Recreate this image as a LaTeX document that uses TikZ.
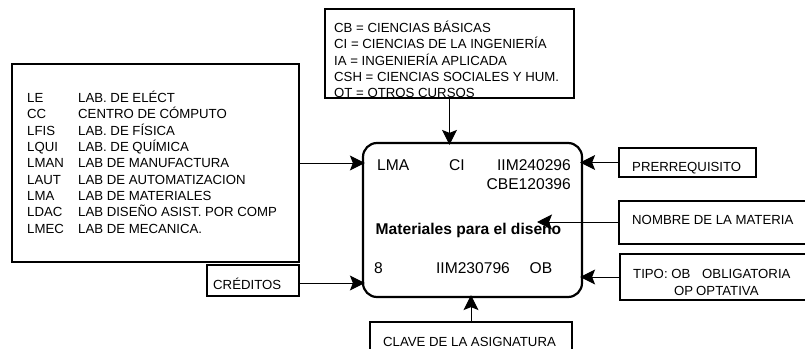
\documentclass[tikz,border=0pt]{standalone}
\usepackage{fontspec}
\setmainfont{Liberation Sans}
\usetikzlibrary{arrows.meta}

\tikzset{
    legendbox/.style={draw, line width=1.2pt, inner sep=0pt},
    card/.style={draw, line width=2.2pt, rounded corners=14pt, inner sep=0pt},
    tag/.style={font=\fontsize{13.2}{16.25}\selectfont, inner sep=0pt, align=left},
    field/.style={font=\fontsize{15.6}{18}\selectfont, inner sep=0pt, text height=12pt, text depth=1pt},
    pointer/.style={-{Stealth[length=15pt, width=15pt, inset=3pt]}, line width=1pt, shorten >=-3pt},
}

\begin{document}
\begin{tikzpicture}[x=1pt, y=-1pt]
    \useasboundingbox (0,0) rectangle (805,348);
    \clip (0,0) rectangle (805,348);

    \node[card, minimum width=219pt, minimum height=154pt] (course) at (472.5,220) {};
    \node[field, anchor=west] (lab) at (377,165) {LMA};
    \node[field] (area) at (457,165) {CI};
    \node[field, anchor=east] (prereqa) at (571,165) {IIM240296};
    \node[field, anchor=east] (prereqb) at (571,183.5) {CBE120396};
    \node[field, font=\fontsize{15.6}{18}\selectfont\bfseries] (title) at (468.5,228.5) {Materiales para el diseño};
    \node[field, anchor=west] (credits) at (374,267.5) {8};
    \node[field] (code) at (473,267.5) {IIM230796};
    \node[field] (kind) at (541,267.5) {OB};
    \coordinate (titlepoint) at (537,222);

    \node[legendbox, minimum width=287pt, minimum height=198pt] (labs) at (155.5,163) {};
    \node[tag, anchor=west] (lablist) at (27,164.5) {%
        \begin{tabular}{@{}p{51pt}@{}l@{}}
            LE & LAB. DE ELÉCT\\
            CC & CENTRO DE CÓMPUTO\\
            LFIS & LAB. DE FÍSICA\\
            LQUI & LAB. DE QUÍMICA\\
            LMAN & LAB DE MANUFACTURA\\
            LAUT & LAB DE AUTOMATIZACION\\
            LMA & LAB DE MATERIALES\\
            LDAC & LAB DISEÑO ASIST. POR COMP\\
            LMEC & LAB DE MECANICA.
        \end{tabular}};

    \node[legendbox, minimum width=249pt, minimum height=89pt] (areas) at (449.5,53.5) {};
    \node[tag, anchor=west] (arealist) at (334,59.5) {CB = CIENCIAS BÁSICAS\\CI = CIENCIAS DE LA INGENIERÍA\\IA = INGENIERÍA APLICADA\\CSH = CIENCIAS SOCIALES Y HUM.\\OT = OTROS CURSOS};

    \node[legendbox, minimum width=137pt, minimum height=29pt] (prereqbox) at (687.5,162.5) {};
    \node[tag, anchor=west] (prereqlabel) at (632,168) {PRERREQUISITO};

    \node[legendbox, minimum width=211pt, minimum height=43pt] (titlebox) at (724.5,222.5) {};
    \node[tag, anchor=west] (titlelabel) at (632,220) {NOMBRE DE LA MATERIA};

    \node[legendbox, minimum width=210pt, minimum height=46pt] (kindbox) at (725,277) {};
    \node[tag, anchor=west] (kindlabel) at (633,282.5) {\makebox[69pt][l]{TIPO: OB}OBLIGATORIA\\\hspace*{41pt}\makebox[22pt][l]{OP}OPTATIVA};

    \node[legendbox, minimum width=92pt, minimum height=31pt] (creditbox) at (253,280.5) {};
    \node[tag, anchor=west] (creditlabel) at (213,284) {CRÉDITOS};

    \node[legendbox, minimum width=202pt, minimum height=50pt] (codebox) at (471,347) {};
    \node[tag, anchor=west] (codelabel) at (383,341.5) {CLAVE DE LA ASIGNATURA};

    \draw[pointer] (areas.south) -- (areas.south |- course.north);
    \draw[pointer] (labs.east) -- (labs.east -| course.west);
    \draw[pointer] ([yshift=-2.5pt]creditbox.east) -- ([yshift=-2.5pt]creditbox.east -| course.west);
    \draw[pointer] (prereqbox.west) -- (prereqbox.west -| course.east);
    \draw[pointer, shorten >=0pt] (titlebox.west |- titlepoint) -- (titlepoint);
    \draw[pointer] (kindbox.west) -- (kindbox.west -| course.east);
    \draw[pointer] (codebox.north) -- (codebox.north |- course.south);
\end{tikzpicture}
\end{document}
